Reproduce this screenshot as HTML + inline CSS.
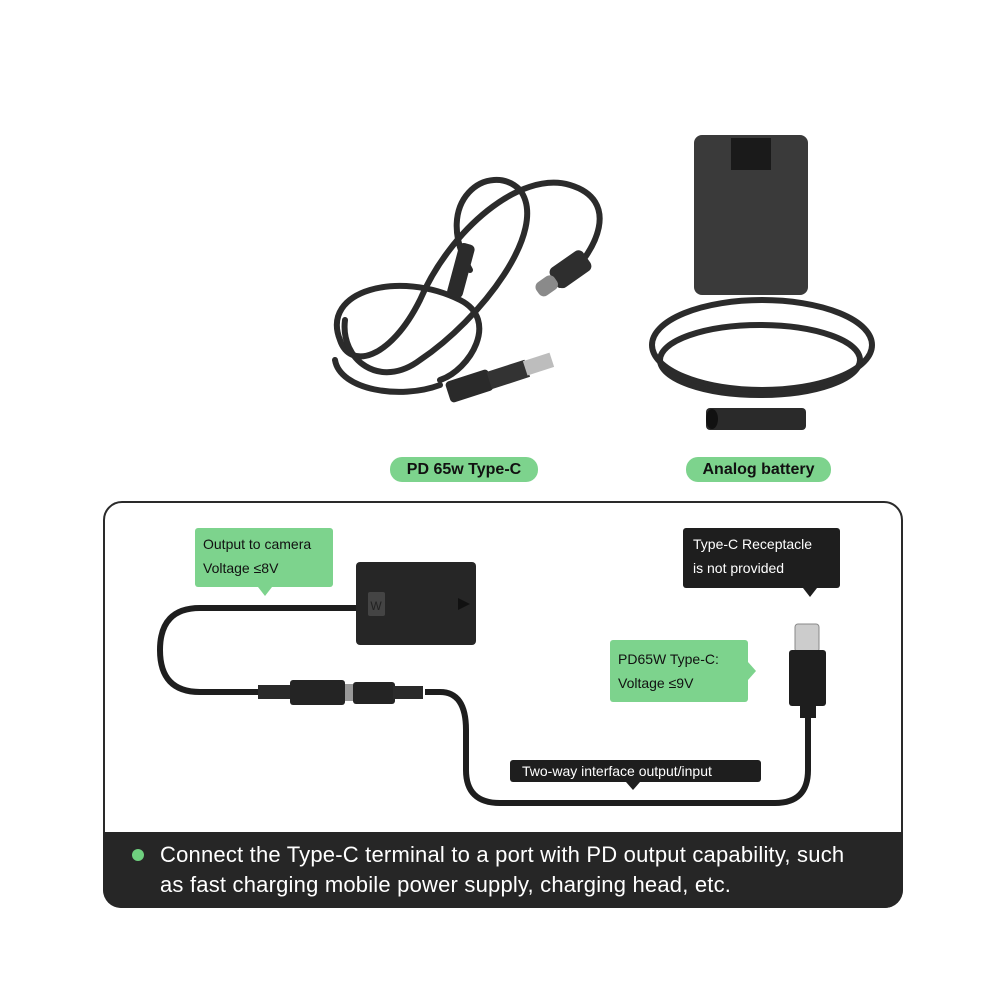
<!DOCTYPE html>
<html><head><meta charset="utf-8"><style>
body{margin:0;width:1000px;height:1000px;background:#fff;font-family:"Liberation Sans",sans-serif;overflow:hidden;position:relative}
.abs{position:absolute}
.pill{position:absolute;background:#7dd38d;border-radius:12px;font-weight:bold;font-size:16px;color:#111;text-align:center;line-height:25px}
.g{position:absolute;background:#7dd38d;color:#111;font-size:14px;line-height:24px;padding:4px 8px;box-sizing:border-box;border-radius:3px}
.b{position:absolute;background:#1e1e1e;color:#fff;font-size:14px;line-height:24px;padding:4px 10px;box-sizing:border-box;border-radius:3px}
</style></head><body>
<svg class="abs" style="left:0;top:0" width="1000" height="1000">
<g fill="none" stroke="#2b2b2b" stroke-width="6" stroke-linecap="round">
<path d="M560 285 C600 250 620 200 570 185 C520 170 450 230 420 300 C390 360 350 370 340 340 C320 290 400 270 460 300 C500 320 470 370 440 380"/>
<path d="M470 270 C430 200 490 160 520 190 C550 230 480 320 420 360 C380 390 340 360 345 320"/>
<path d="M440 385 C400 400 340 390 335 360"/>
</g>
<rect x="453" y="243" width="16" height="55" rx="5" fill="#2b2b2b" transform="rotate(15 461 270)"/>
<g transform="rotate(-35 570 272)"><rect x="552" y="258" width="40" height="24" rx="6" fill="#2e2e2e"/><rect x="532" y="262" width="22" height="16" rx="6" fill="#8a8a8a"/></g>
<g transform="rotate(-18 500 375)"><rect x="445" y="365" width="45" height="22" rx="4" fill="#2a2a2a"/><rect x="488" y="368" width="40" height="18" fill="#333"/><rect x="526" y="369" width="28" height="15" fill="#bdbdbd"/></g>
<rect x="694" y="135" width="114" height="160" rx="8" fill="#3a3a3a"/>
<rect x="731" y="138" width="40" height="32" fill="#1a1a1a"/>
<g fill="none" stroke="#2b2b2b" stroke-width="6">
<ellipse cx="762" cy="345" rx="110" ry="45"/>
<ellipse cx="760" cy="360" rx="100" ry="35"/>
</g>
<rect x="706" y="408" width="100" height="22" rx="4" fill="#2a2a2a"/>
<ellipse cx="712" cy="419" rx="6" ry="10" fill="#111"/>
<rect x="104" y="502" width="798" height="405" rx="18" fill="#fff" stroke="#2a2a2a" stroke-width="2"/>
<path d="M103 832 H903 V890 A18 18 0 0 1 885 908 H121 A18 18 0 0 1 103 890 Z" fill="#262626"/>
<circle cx="138" cy="855" r="6" fill="#6fd07f"/>
<path d="M356 608 H200 Q160 608 160 650 Q160 692 200 692 H260" fill="none" stroke="#1e1e1e" stroke-width="6"/>
<path d="M425 692 H440 Q466 692 466 730 V770 Q466 803 500 803 H775 Q808 803 808 770 V705" fill="none" stroke="#1e1e1e" stroke-width="6"/>
<rect x="258" y="685" width="34" height="14" fill="#2a2a2a"/>
<rect x="290" y="680" width="55" height="25" rx="3" fill="#242424"/>
<rect x="345" y="684" width="8" height="17" fill="#999"/>
<rect x="353" y="682" width="42" height="22" rx="3" fill="#242424"/>
<rect x="393" y="686" width="30" height="13" fill="#2a2a2a"/>
<rect x="356" y="562" width="120" height="83" rx="4" fill="#262626"/>
<rect x="368" y="592" width="17" height="24" rx="2" fill="#444"/>
<text x="376" y="610" font-size="12" fill="#222" text-anchor="middle" font-family="Liberation Sans">W</text>
<path d="M458 598 L470 604 L458 610 Z" fill="#111"/>
<rect x="795" y="624" width="24" height="28" rx="3" fill="#ccc" stroke="#888"/>
<rect x="789" y="650" width="37" height="56" rx="3" fill="#1e1e1e"/>
<rect x="800" y="704" width="16" height="14" fill="#1e1e1e"/>
<path d="M258 587 L265 596 L272 587 Z" fill="#7dd38d"/>
<path d="M803 588 L810 597 L817 588 Z" fill="#1e1e1e"/>
<path d="M748 662 L756 671 L748 680 Z" fill="#7dd38d"/>
<path d="M626 782 L633 790 L640 782 Z" fill="#1e1e1e"/>
</svg>
<div class="pill" style="left:390px;top:457px;width:148px">PD 65w Type-C</div>
<div class="pill" style="left:686px;top:457px;width:145px">Analog battery</div>
<div class="g" style="left:195px;top:528px;width:138px;height:59px">Output to camera<br>Voltage ≤8V</div>
<div class="b" style="left:683px;top:528px;width:157px;height:60px">Type-C Receptacle<br>is not provided</div>
<div class="g" style="left:610px;top:640px;width:138px;height:62px;padding-top:7px">PD65W Type-C:<br>Voltage ≤9V</div>
<div class="b" style="left:510px;top:760px;width:251px;height:22px;line-height:22px;padding:0 12px;font-size:14px">Two-way interface output/input</div>
<div class="abs" style="left:160px;top:840px;width:740px;color:#fff;font-size:22px;letter-spacing:0.2px;line-height:30px;white-space:nowrap">Connect the Type-C terminal to a port with PD output capability, such<br>as fast charging mobile power supply, charging head, etc.</div>
</body></html>
